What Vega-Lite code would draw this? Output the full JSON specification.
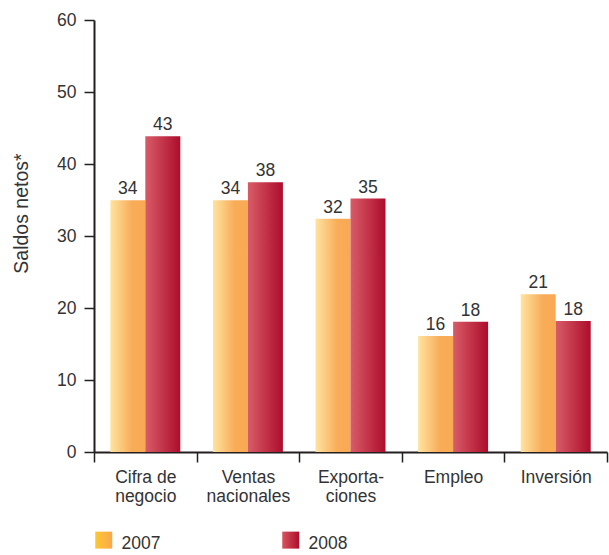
{
  "$schema": "https://vega.github.io/schema/vega-lite/v6.json",
  "width": 513,
  "height": 432,
  "autosize": {"type": "none"},
  "padding": {"left": 94, "top": 20, "right": 2, "bottom": 103},
  "config": {"font": "Liberation Sans", "view": {"stroke": null}},
  "data": {
    "values": [
      {"cat": "Cifra de|negocio", "year": "2007", "v": 34.95, "label": "34"},
      {"cat": "Cifra de|negocio", "year": "2008", "v": 43.85, "label": "43"},
      {"cat": "Ventas|nacionales", "year": "2007", "v": 34.95, "label": "34"},
      {"cat": "Ventas|nacionales", "year": "2008", "v": 37.45, "label": "38"},
      {"cat": "Exporta-|ciones", "year": "2007", "v": 32.4, "label": "32"},
      {"cat": "Exporta-|ciones", "year": "2008", "v": 35.2, "label": "35"},
      {"cat": "Empleo", "year": "2007", "v": 16.1, "label": "16"},
      {"cat": "Empleo", "year": "2008", "v": 18.1, "label": "18"},
      {"cat": "Inversión", "year": "2007", "v": 21.9, "label": "21"},
      {"cat": "Inversión", "year": "2008", "v": 18.2, "label": "18"}
    ]
  },
  "encoding": {
    "x": {
      "field": "cat", "type": "nominal", "sort": null,
      "scale": {"paddingInner": 0, "paddingOuter": 0},
      "axis": {
        "title": null, "labelAngle": 0, "tickBand": "extent",
        "labelExpr": "split(datum.label, '|')",
        "labelFontSize": 17.5, "labelLineHeight": 19.5, "labelColor": "#333333",
        "labelBaseline": "top", "labelPadding": 6, "tickSize": 10,
        "domainColor": "#231f20", "domainWidth": 2, "tickColor": "#231f20", "tickWidth": 1.5
      }
    },
    "xOffset": {
      "field": "year", "type": "nominal",
      "scale": {"paddingInner": 0, "paddingOuter": 0.4657}
    },
    "y": {
      "field": "v", "type": "quantitative",
      "scale": {"domain": [0, 60], "nice": false},
      "axis": {
        "values": [0, 10, 20, 30, 40, 50, 60], "grid": false,
        "title": "Saldos netos*", "titleFontSize": 19.5, "titleFontWeight": "normal",
        "titleColor": "#333333", "titleX": -67, "titleY": 193, "titleAngle": 270,
        "titleBaseline": "alphabetic", "titleAlign": "center",
        "labelFontSize": 17.5, "labelColor": "#333333", "labelPadding": 8, "tickSize": 10,
        "domainColor": "#231f20", "domainWidth": 2, "tickColor": "#231f20", "tickWidth": 1.5
      }
    }
  },
  "layer": [
    {
      "transform": [{"filter": "datum.year == '2007'"}],
      "mark": {
        "type": "bar",
        "color": {
          "gradient": "linear", "x1": 0, "y1": 0, "x2": 1, "y2": 0,
          "stops": [
            {"offset": 0, "color": "#fee4a0"},
            {"offset": 0.62, "color": "#f9ac58"},
            {"offset": 1, "color": "#f8a953"}
          ]
        }
      }
    },
    {
      "transform": [{"filter": "datum.year == '2008'"}],
      "mark": {
        "type": "bar",
        "color": {
          "gradient": "linear", "x1": 0, "y1": 0, "x2": 1, "y2": 0,
          "stops": [
            {"offset": 0, "color": "#d85c68"},
            {"offset": 1, "color": "#ad0d2b"}
          ]
        }
      }
    },
    {
      "mark": {"type": "text", "baseline": "alphabetic", "dy": -6, "fontSize": 17.5, "color": "#333333"},
      "encoding": {
        "text": {"field": "label"},
        "opacity": {
          "field": "year", "type": "nominal",
          "scale": {"range": [1, 1]},
          "legend": {
            "orient": "none", "legendX": 1, "legendY": 511, "direction": "horizontal",
            "title": null, "padding": 0, "symbolType": "square", "symbolSize": 289,
            "symbolStrokeWidth": 0, "labelFontSize": 17.5, "labelColor": "#333333",
            "labelOffset": 9, "columnPadding": 121,
            "encoding": {
              "symbols": {
                "fill": {
                  "condition": {"test": "datum.value === '2007'", "value": {"gradient": "linear", "x1": 0, "y1": 0, "x2": 1, "y2": 0, "stops": [{"offset": 0, "color": "#fdc832"}, {"offset": 1, "color": "#f9a84c"}]}},
                  "value": {"gradient": "linear", "x1": 0, "y1": 0, "x2": 1, "y2": 0, "stops": [{"offset": 0, "color": "#d65560"}, {"offset": 1, "color": "#ad0d2b"}]}
                },
                "strokeWidth": {"value": 0}
              },
              "labels": {"dy": {"value": 4}}
            }
          }
        }
      }
    }
  ]
}
